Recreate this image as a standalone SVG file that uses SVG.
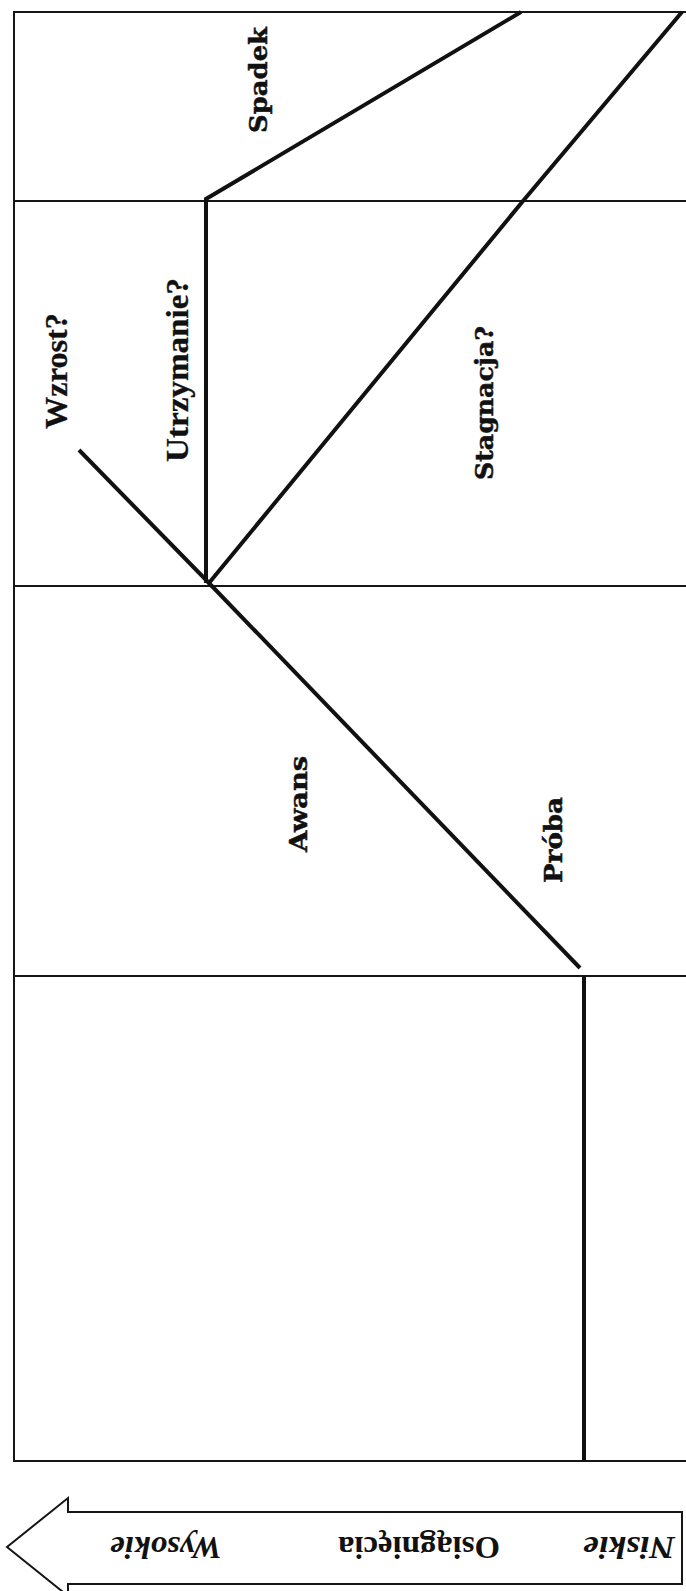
<svg xmlns="http://www.w3.org/2000/svg" width="686" height="1591" viewBox="0 0 686 1591">
  <style>
    .frame { stroke: #161616; stroke-width: 2; fill: none; }
    .path { stroke: #111; stroke-width: 4; fill: none; stroke-linejoin: miter; stroke-linecap: butt; }
    .lbl { font-family: "DejaVu Serif", "Liberation Serif", serif; font-weight: bold; font-size: 25px; fill: #111; stroke: #111; stroke-width: 0.5; text-anchor: middle; }
    .lblT { font-family: "Liberation Serif", "Times New Roman", serif; font-weight: bold; font-size: 32px; fill: #111; stroke: #111; stroke-width: 0.3; text-anchor: middle; }
    .axis { font-family: "Liberation Serif", "Times New Roman", serif; font-weight: bold; font-size: 32px; fill: #111; text-anchor: middle; }
    .it { font-style: italic; }
  </style>
  <rect width="686" height="1591" fill="#ffffff"/>

  <g id="frame">
    <line class="frame" x1="14" y1="11" x2="14" y2="1462"/>
    <line class="frame" x1="13" y1="12" x2="686" y2="12"/>
    <line class="frame" x1="13" y1="201" x2="686" y2="201"/>
    <line class="frame" x1="13" y1="586" x2="686" y2="586"/>
    <line class="frame" x1="13" y1="976" x2="686" y2="976"/>
    <line class="frame" x1="13" y1="1461" x2="686" y2="1461"/>
  </g>

  <g id="connectors">
    <polyline class="path" points="521,12 206,199 206,583"/>
    <polyline class="path" points="209,583 523,201 682,12"/>
    <line class="path" x1="79" y1="450" x2="209" y2="583"/>
    <line class="path" x1="208" y1="582" x2="580" y2="968"/>
    <line class="path" x1="584" y1="976" x2="584" y2="1461"/>
  </g>

  <g id="spadek"><text class="lbl" transform="translate(267,80) rotate(-90)" textLength="106" lengthAdjust="spacingAndGlyphs">Spadek</text></g>
  <g id="wzrost"><text class="lblT" transform="translate(67,371) rotate(-90)" textLength="116" lengthAdjust="spacingAndGlyphs">Wzrost?</text></g>
  <g id="utrzymanie"><text class="lblT" transform="translate(188,370) rotate(-90)" textLength="184" lengthAdjust="spacingAndGlyphs">Utrzymanie?</text></g>
  <g id="stagnacja"><text class="lbl" transform="translate(493,403) rotate(-90)" textLength="154" lengthAdjust="spacingAndGlyphs">Stagnacja?</text></g>
  <g id="awans"><text class="lbl" transform="translate(307,804) rotate(-90)" textLength="96" lengthAdjust="spacingAndGlyphs">Awans</text></g>
  <g id="proba"><text class="lbl" transform="translate(562,840) rotate(-90)" textLength="86" lengthAdjust="spacingAndGlyphs">Próba</text></g>

  <g id="axis-arrow">
    <polygon class="frame" fill="#fff" points="682,1512 68,1512 68,1498 7,1547 68,1596 68,1584 682,1584"/>
    <text class="axis it" transform="translate(166,1537) rotate(180)" textLength="112" lengthAdjust="spacingAndGlyphs">Wysokie</text>
    <text class="axis" transform="translate(419,1537) rotate(180)" textLength="162" lengthAdjust="spacingAndGlyphs">Osiągnięcia</text>
    <text class="axis it" transform="translate(629,1537) rotate(180)" textLength="92" lengthAdjust="spacingAndGlyphs">Niskie</text>
  </g>
</svg>
